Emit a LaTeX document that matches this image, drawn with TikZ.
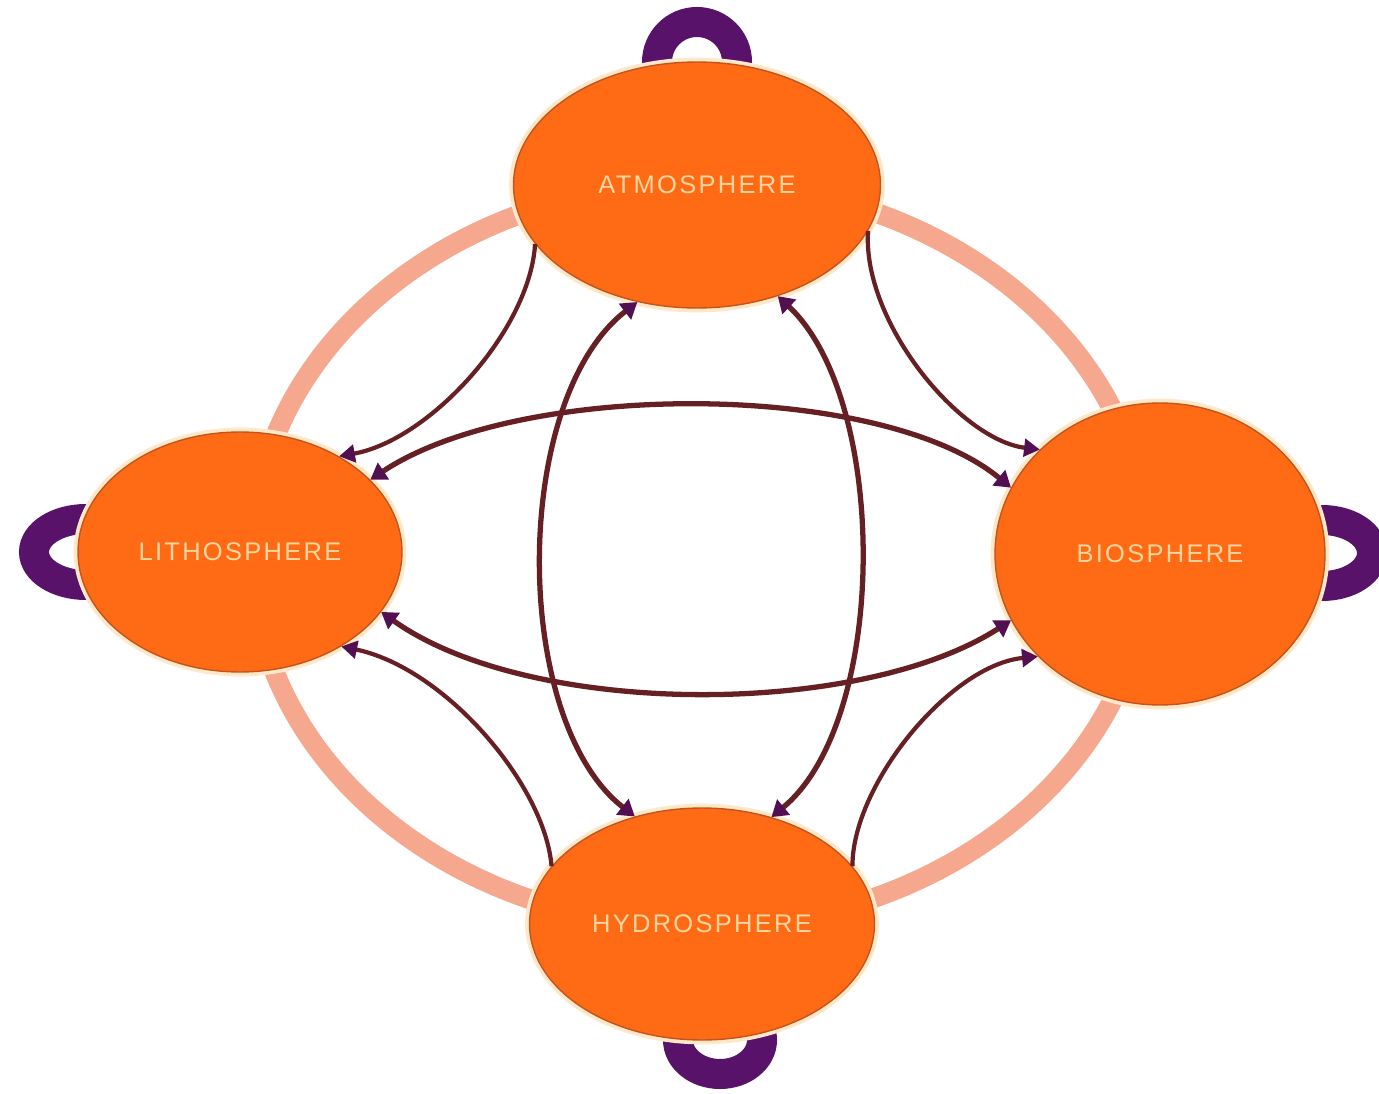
\documentclass[tikz,border=0pt]{standalone}
\usepackage{fontspec}
\usetikzlibrary{shapes.geometric,arrows.meta}
\newfontfamily\spherefont[LetterSpace=9]{Liberation Sans}
\definecolor{sphereorange}{RGB}{255,106,20}
\definecolor{sphereedge}{RGB}{196,84,30}
\definecolor{spherehalo}{RGB}{255,232,200}
\definecolor{spheretext}{RGB}{255,214,160}
\definecolor{ringpink}{RGB}{246,168,142}
\definecolor{loopviolet}{RGB}{88,18,105}
\definecolor{flowbrown}{RGB}{102,32,36}
\definecolor{flowhead}{RGB}{82,16,82}

\begin{document}
\begin{tikzpicture}[x=0.02cm, y=-0.02cm,
  sphere/.style={ellipse, fill=sphereorange, draw=sphereedge, line width=0.8pt,
    preaction={draw=spherehalo, line width=5pt}, inner sep=0pt,
    font=\spherefont\fontsize{14.5}{16}\selectfont, text=spheretext},
  selfloop/.style={draw=loopviolet, line width=0.6cm},
  flow/.style={draw=flowbrown, line width=2.4pt,
    -{Triangle[length=9pt,width=10pt,color=flowhead]}},
  twoway/.style={draw=flowbrown, line width=3pt,
    {Triangle[length=9pt,width=11pt,color=flowhead]}-{Triangle[length=9pt,width=11pt,color=flowhead]}}]

  \fill[white] (0,0) rectangle (1379,1094);
  \useasboundingbox (0,0) rectangle (1379,1094);

  %=====================================================================
  % pale ring behind the four spheres
  %=====================================================================
  \draw[ringpink, line width=0.4cm] (700,555) ellipse [x radius=448, y radius=372];

  % self loops (the sphere covers the inner half)
  \draw[selfloop] (697,62) ellipse [x radius=40, y radius=40];
  \draw[selfloop] (86,552) ellipse [x radius=52, y radius=33];
  \draw[selfloop] (1322,553) ellipse [x radius=50, y radius=33];
  \draw[selfloop] (720,1040) ellipse [x radius=42, y radius=34];

  %=====================================================================
  % spheres
  %=====================================================================
  \node[sphere, minimum width=7.34cm, minimum height=4.92cm] (atmo) at (697,185) {ATMOSPHERE};
  \node[sphere, minimum width=6.48cm, minimum height=4.8cm] (litho) at (240,552) {LITHOSPHERE};
  \node[sphere, minimum width=6.6cm, minimum height=6.04cm] (bio) at (1160,554) {BIOSPHERE};
  \node[sphere, minimum width=6.9cm, minimum height=4.64cm] (hydro) at (702,924) {HYDROSPHERE};

  %=====================================================================
  % exchanges between facing spheres (both ways)
  %=====================================================================
  \draw[twoway] (litho.29) .. controls (520,380) and (880,380) .. (bio.156);
  \draw[twoway] (litho.337) .. controls (530,718) and (860,718) .. (bio.204);
  \draw[twoway] (atmo.243) .. controls (511,400) and (511,720) .. (hydro.122);
  \draw[twoway] (atmo.306) .. controls (889,400) and (889,720) .. (hydro.57);

  % outer one-way flows
  \draw[flow] (atmo.200) .. controls (530,330) and (430,440) .. (litho.44);
  \draw[flow] (atmo.345) .. controls (862,322) and (960,440) .. (bio.139);
  \draw[flow] (hydro.159) .. controls (545,785) and (445,668) .. (litho.317);
  \draw[flow] (hydro.21) .. controls (852,785) and (950,665) .. (bio.220);

\end{tikzpicture}
\end{document}
